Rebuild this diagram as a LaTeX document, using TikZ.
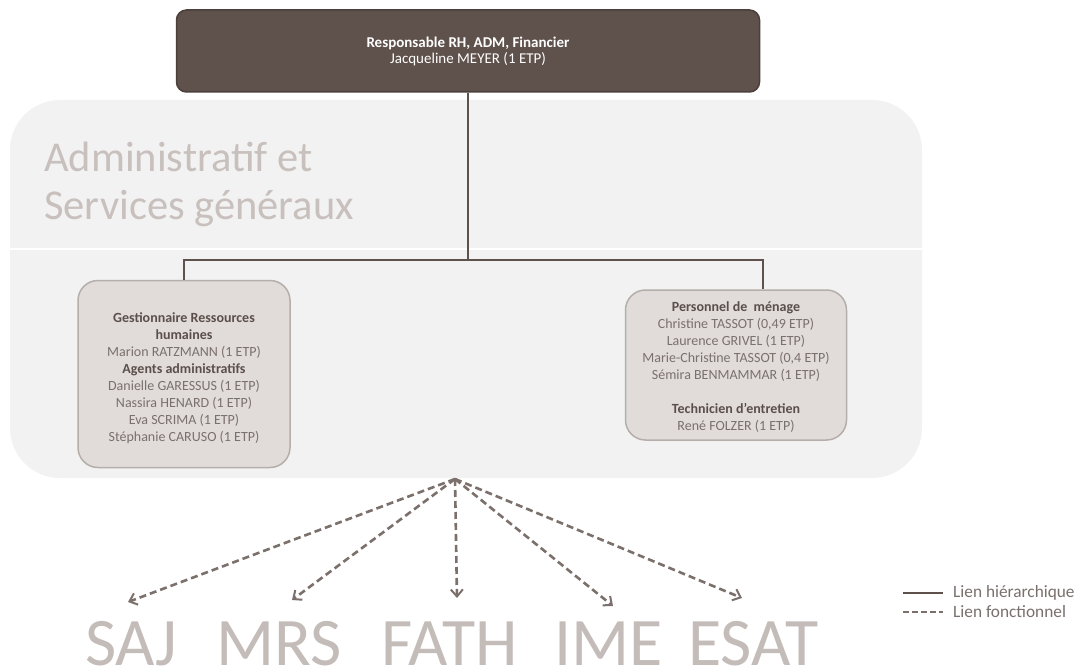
\documentclass[tikz,border=0pt]{standalone}
\usepackage{fontspec}
\setmainfont{Carlito}
\usetikzlibrary{arrows.meta}
\definecolor{boxdark}{HTML}{5F524C}
\definecolor{boxdarkedge}{HTML}{4A3F3A}
\definecolor{bandc}{HTML}{F2F2F2}
\definecolor{subfill}{HTML}{E1DCDA}
\definecolor{subedge}{HTML}{B5AEAB}
\definecolor{headc}{HTML}{5A4F4A}
\definecolor{namec}{HTML}{7A706C}
\definecolor{titlec}{HTML}{C8C0BD}
\definecolor{bigc}{HTML}{C4BCB9}
\definecolor{dashc}{HTML}{7B706B}
\tikzset{
  conn/.style={draw=boxdark, line width=2pt},
  fnlink/.style={draw=dashc, line width=2.6pt, dash pattern=on 7pt off 4pt, -{Straight Barb[length=7pt,width=12pt,line width=2pt]}},
  topbox/.style={draw=boxdarkedge, line width=1.5pt, fill=boxdark, rounded corners=10pt, minimum width=583pt, minimum height=82pt, text=white, align=center, font=\fontsize{15}{16}\selectfont},
  subbox/.style={draw=subedge, line width=1.5pt, fill=subfill, rounded corners=20pt, inner sep=0pt},
  subtext/.style={align=center, text=namec, font=\fontsize{14}{17}\selectfont, inner sep=0pt},
  bigtxt/.style={text=bigc, font=\fontsize{68}{80}\selectfont, inner sep=0pt, anchor=base west, text depth=0pt},
  legtxt/.style={text=namec, font=\fontsize{17.3}{18}\selectfont, anchor=west, inner sep=0pt}
}
\begin{document}
\begin{tikzpicture}[x=1pt,y=-1pt]
\useasboundingbox (0,0) rectangle (1090,671);
\fill[white] (0,0) rectangle (1090,671);
% band
\fill[bandc, rounded corners=50pt] (10,100) rectangle (922,478);
\draw[white, line width=1.5pt] (10,249) -- (922,249);
\node[text=titlec, font=\fontsize{42.5}{48}\selectfont, anchor=base west, align=left, inner sep=0pt] (title) at (44,220) {Administratif et\\Services généraux};
% top box
\node[topbox] (top) at (468,51) {\textbf{Responsable RH, ADM, Financier}\\Jacqueline MEYER (1 ETP)};
% sub boxes
\node[subbox, minimum width=212pt, minimum height=187pt] (lbox) at (184,374) {};
\node[subtext] (ltext) at ([yshift=-4pt]lbox.center) {%
{\color{headc}\textbf{Gestionnaire Ressources}}\\
{\color{headc}\textbf{humaines}}\\
Marion RATZMANN (1 ETP)\\
{\color{headc}\textbf{Agents administratifs}}\\
Danielle GARESSUS (1 ETP)\\
Nassira HENARD (1 ETP)\\
Eva SCRIMA (1 ETP)\\
Stéphanie CARUSO (1 ETP)};
\node[subbox, minimum width=221pt, minimum height=150pt] (rbox) at (736,365) {};
\node[subtext] (rtext) at ([yshift=-2pt]rbox.center) {%
{\color{headc}\textbf{Personnel de\ \ ménage}}\\
Christine TASSOT (0,49 ETP)\\
Laurence GRIVEL (1 ETP)\\
Marie-Christine TASSOT (0,4 ETP)\\
Sémira BENMAMMAR (1 ETP)\\[17pt]
{\color{headc}\textbf{Technicien d'entretien}}\\
René FOLZER (1 ETP)};
% hierarchy connectors
\coordinate (hbar) at (0,260);
\coordinate (rc) at (763,260);
\draw[conn] (top.south) -- (top.south |- hbar);
\draw[conn] (lbox.north) -- (lbox.north |- hbar) -- (rc) -- (rc |- rbox.north);
% big labels
\node[bigtxt] (saj) at (85,665) {SAJ};
\node[bigtxt] (mrs) at (216,665) {MRS};
\node[bigtxt] (fath) at (381,665) {FATH};
\node[bigtxt] (ime) at (554,665) {IME};
\node[bigtxt] (esat) at (688,665) {ESAT};
% functional links
\coordinate (src) at (455,479);
\coordinate (tSAJ) at (128,602);
\coordinate (tMRS) at (292,600);
\coordinate (tFATH) at (457,598);
\coordinate (tIME) at (613,606);
\coordinate (tESAT) at (742,598);
\draw[fnlink] (src) -- (tSAJ);
\draw[fnlink] (src) -- (tMRS);
\draw[fnlink] (src) -- (tFATH);
\draw[fnlink] (src) -- (tIME);
\draw[fnlink] (src) -- (tESAT);
% legend
\coordinate (l1a) at (903,593); \coordinate (l1b) at (943,593);
\coordinate (l2a) at (903,612); \coordinate (l2b) at (943,612);
\draw[conn] (l1a) -- (l1b);
\draw[draw=dashc, line width=2pt, dash pattern=on 6pt off 3pt] (l2a) -- (l2b);
\node[legtxt] (leg1) at (953,593) {Lien hiérarchique};
\node[legtxt] (leg2) at (953,612) {Lien fonctionnel};
\end{tikzpicture}
\end{document}
